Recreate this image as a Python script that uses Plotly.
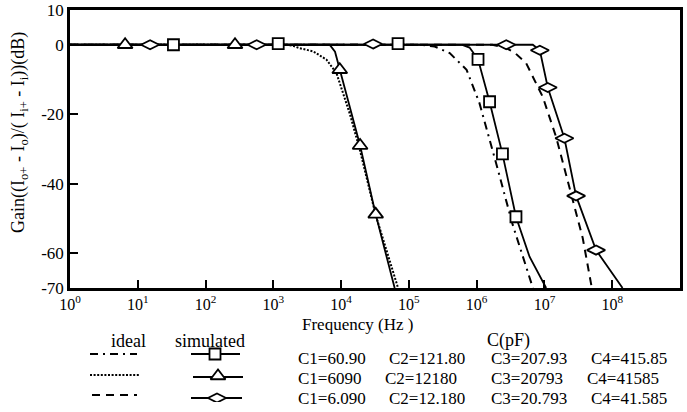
import plotly.graph_objects as go

# ---------------- data ----------------
# C = 6090 pF family (triangles): ideal dotted, simulated solid
tri_ideal_f = [1, 1500, 1950, 2450, 3870, 6100, 8550, 13400, 19050, 32360, 69200]
tri_ideal_db = [0, 0, -0.3, -1.0, -1.9, -4.3, -8.2, -19.8, -30.5, -49.0, -70]
tri_sim_f = [1, 6760, 8130, 9550, 19050, 32360, 61660]
tri_sim_db = [0, 0, -2.0, -7.2, -29.0, -48.8, -70]
tri_mk_f = [6.5, 272, 9550, 19050, 32360]
tri_mk_db = [0, 0, -7.2, -29.0, -48.8]

# C = 60.90 pF family (squares): ideal dash-dot, simulated solid
sq_ideal_f = [1, 1.5e5, 2.4e5, 4.0e5, 7.1e5, 1.1e6, 1.95e6, 3.39e6, 6.76e6]
sq_ideal_db = [0, 0, -0.5, -2.4, -7.2, -16.8, -34.3, -51.7, -70]
sq_sim_f = [1, 6.0e5, 7.85e5, 1.047e6, 1.55e6, 2.4e6, 3.8e6, 6.03e6, 1.06e7]
sq_sim_db = [0, 0, -0.8, -4.2, -16.4, -31.4, -49.5, -61.0, -70]
sq_mk_f = [33.6, 1180, 69200, 1.047e6, 1.55e6, 2.4e6, 3.8e6]
sq_mk_db = [0, 0.3, 0.3, -4.2, -16.4, -31.4, -49.5]

# C = 6.090 pF family (diamonds): ideal dashed, simulated solid
di_ideal_f = [1, 1.7e6, 2.73e6, 3.6e6, 5.37e6, 9.44e6, 1.49e7, 2.33e7, 3.67e7, 5.0e7]
di_ideal_db = [0, 0, -1.0, -2.2, -5.3, -15.0, -26.6, -41.0, -55.6, -70]
di_sim_f = [1, 6.73e6, 8.55e6, 1.12e7, 1.97e7, 2.93e7, 5.77e7, 1.42e8]
di_sim_db = [0, 0, -1.6, -12.3, -26.9, -43.5, -59.1, -70]
di_mk_f = [15.2, 568, 29600, 2.73e6, 8.55e6, 1.12e7, 1.97e7, 2.93e7, 5.77e7]
di_mk_db = [0, 0, 0.2, 0, -1.6, -12.3, -26.9, -43.5, -59.1]

# axes
x_tickvals = [1, 1e1, 1e2, 1e3, 1e4, 1e5, 1e6, 1e7, 1e8, 1e9]
x_ticktext = ["10<sup>%d</sup>" % i for i in range(10)]
y_tickvals = [10, 0, -20, -40, -60, -70]
y_ticktext = ["10", "0", "-20", "-40", "-60", "-70"]

# legend table text
c_rows = [
    ["C1=60.90", "C2=121.80", "C3=207.93", "C4=415.85"],
    ["C1=6090", "C2=12180", "C3=20793", "C4=41585"],
    ["C1=6.090", "C2=12.180", "C3=20.793", "C4=41.585"],
]

# ---------------- figure ----------------
FONT = "Liberation Serif"
BLK = "black"
DASHDOT = "8px,5px,2px,5px"
DOT = "2px,1.6px"
DASH = "8px,6px"

W, HT = 687, 412
ML, MR, MT, MB = 70, 7, 10, 10
PH = HT - MT - MB           # paper height in px


def py2paper(py):
    return 1 - (py - MT) / PH


PLOT_BOTTOM = 288
LEG_TOP = 296
leg_dom_top = py2paper(LEG_TOP)

fig = go.Figure()


def line(x, y, dash=None, w=1.8, xa="x", ya="y"):
    fig.add_trace(go.Scatter(x=x, y=y, mode="lines", xaxis=xa, yaxis=ya,
                             line=dict(color=BLK, width=w, dash=dash),
                             showlegend=False, hoverinfo="skip"))


def marks(x, y, sym, size, xa="x", ya="y"):
    fig.add_trace(go.Scatter(x=x, y=y, mode="markers", xaxis=xa, yaxis=ya,
                             marker=dict(symbol=sym, size=size, color="white",
                                         line=dict(color=BLK, width=1.8)),
                             showlegend=False, hoverinfo="skip"))


# ideal curves
line(tri_ideal_f, tri_ideal_db, DOT, 2)
line(sq_ideal_f, sq_ideal_db, DASHDOT, 2)
line(di_ideal_f, di_ideal_db, DASH, 2)
# simulated curves
line(tri_sim_f, tri_sim_db)
line(sq_sim_f, sq_sim_db)
line(di_sim_f, di_sim_db)
marks(tri_mk_f, tri_mk_db, "triangle-up", 13)
marks(sq_mk_f, sq_mk_db, "square", 11)
marks(di_mk_f, di_mk_db, "diamond-wide", 13)

# legend samples (on a pixel-like helper axis below the plot)
line([90, 137], [354, 354], DASHDOT, 2, "x2", "y2")
line([90, 139], [375, 375], DOT, 2, "x2", "y2")
line([92, 137], [395, 395], DASH, 2, "x2", "y2")
line([191, 240], [354, 354], None, 1.8, "x2", "y2")
line([193, 243], [377, 377], None, 1.8, "x2", "y2")
line([191, 242], [398, 398], None, 1.8, "x2", "y2")
marks([215], [354], "square", 11, "x2", "y2")
marks([218], [376], "triangle-up", 13, "x2", "y2")
marks([217], [398], "diamond-wide", 13, "x2", "y2")

ann = []


def txt(x, y, s, xanchor="center", size=17):
    ann.append(dict(x=x, y=y, xref="x2", yref="y2", text=s, showarrow=False,
                    xanchor=xanchor, yanchor="middle",
                    font=dict(family=FONT, size=size, color=BLK)))


txt(357, 324, "Frequency (Hz )", size=17)
txt(128, 341, "ideal", size=18)
txt(210, 341, "simulated", size=18)
txt(508, 340, "C(pF)", size=18)
col_x = [[296, 387, 489, 589], [296, 383, 489, 585], [296, 387, 489, 589]]
row_y = [358, 378, 398]
for r, row in enumerate(c_rows):
    for c, s in enumerate(row):
        txt(col_x[r][c], row_y[r], s, "left")

# y-axis title
ann.append(dict(x=(20 - ML) / (W - ML - MR), y=py2paper(133), xref="paper", yref="paper",
                textangle=-90,
                text="Gain((I<sub>o+</sub> - I<sub>o</sub>)/( I<sub>i+</sub> - I<sub>i</sub>))(dB)",
                showarrow=False, xanchor="center", yanchor="middle",
                font=dict(family=FONT, size=18, color=BLK)))

fig.update_layout(
    width=W, height=HT,
    margin=dict(l=ML, r=MR, t=MT, b=MB, pad=0, autoexpand=False),
    paper_bgcolor="white", plot_bgcolor="white",
    font=dict(family=FONT, size=17, color=BLK),
    showlegend=False,
    annotations=ann,
    xaxis=dict(type="log", range=[0, 9], domain=[0, 1], anchor="y",
               tickvals=x_tickvals, ticktext=x_ticktext,
               ticks="inside", ticklen=8, tickwidth=2, tickcolor=BLK,
               ticklabelstandoff=0,
               showline=True, linecolor=BLK, linewidth=2.5, mirror=True,
               showgrid=False, zeroline=False,
               tickfont=dict(family=FONT, size=16, color=BLK)),
    yaxis=dict(range=[-70, 10], domain=[py2paper(PLOT_BOTTOM), 1], anchor="x",
               tickvals=y_tickvals, ticktext=y_ticktext,
               ticks="inside", ticklen=8, tickwidth=2, tickcolor=BLK,
               showline=True, linecolor=BLK, linewidth=2.5, mirror=True,
               showgrid=False, zeroline=False,
               tickfont=dict(family=FONT, size=17, color=BLK)),
    xaxis2=dict(range=[ML, W - MR], domain=[0, 1], anchor="y2", visible=False),
    yaxis2=dict(range=[HT - MB, LEG_TOP], domain=[0, leg_dom_top], anchor="x2",
                visible=False),
)

fig.write_html("out.html")
